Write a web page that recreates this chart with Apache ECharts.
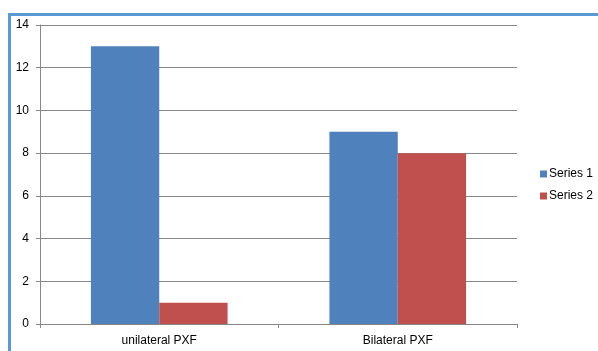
<!DOCTYPE html>
<html>
<head>
<meta charset="utf-8">
<script src="https://cdn.jsdelivr.net/npm/echarts@6/dist/echarts.min.js"></script>
<style>
  html, body { margin: 0; padding: 0; background: #fff; overflow: hidden; }
  #frame { position: absolute; left: 8px; top: 13px; width: 700px; height: 500px;
           border: 3px solid #5b9bd5; box-sizing: border-box; }
  #chart { position: absolute; left: 0; top: 0; width: 598px; height: 351px; }
</style>
</head>
<body>
<div id="frame"></div>
<div id="chart"></div>
<script>
const categories = ['unilateral PXF', 'Bilateral PXF'];
const series1 = [13, 9];
const series2 = [1, 8];
const yTicks = { min: 0, max: 14, interval: 2 };

const font = '"Liberation Sans", Arial, sans-serif';
const chart = echarts.init(document.getElementById('chart'));
chart.setOption({
  animation: false,
  textStyle: { fontFamily: font },
  grid: { left: 40, right: 81, top: 25, bottom: 27 },
  legend: {
    orient: 'vertical', left: 535, top: 163,
    itemWidth: 7, itemHeight: 7, itemGap: 10,
    icon: 'rect',
    textStyle: { fontSize: 12, color: '#000', fontFamily: font, padding: [0, 0, 0, -3] },
    data: ['Series 1', 'Series 2']
  },
  xAxis: {
    type: 'category', data: categories,
    axisLine: { lineStyle: { color: '#868686' } },
    axisTick: { show: true, length: 4, lineStyle: { color: '#868686' } },
    axisLabel: { color: '#000', fontSize: 12, margin: 11 }
  },
  yAxis: {
    type: 'value', min: yTicks.min, max: yTicks.max, interval: yTicks.interval,
    axisLine: { show: true, lineStyle: { color: '#868686' } },
    axisTick: { show: true, length: 4, lineStyle: { color: '#868686' } },
    splitLine: { lineStyle: { color: '#868686' } },
    axisLabel: { color: '#000', fontSize: 12, margin: 11 }
  },
  series: [
    { name: 'Series 1', type: 'bar', data: series1, barGap: '0%', barCategoryGap: '42.7%',
      itemStyle: { color: '#4f81bd' } },
    { name: 'Series 2', type: 'bar', data: series2,
      itemStyle: { color: '#c0504d' } }
  ]
});
</script>
</body>
</html>
